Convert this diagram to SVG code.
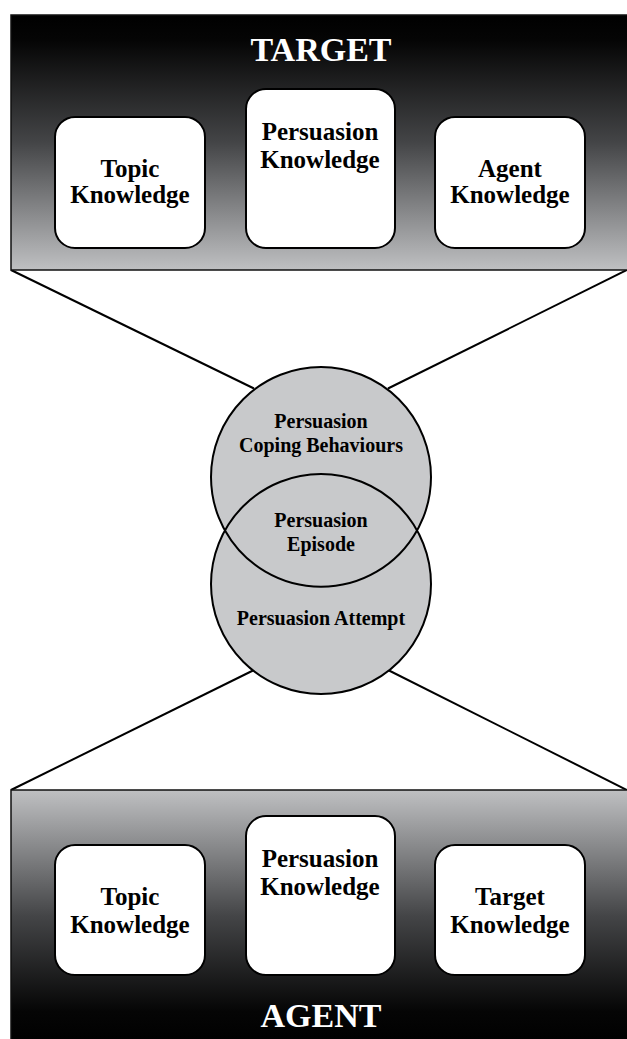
<svg xmlns="http://www.w3.org/2000/svg" width="627" height="1039" viewBox="0 0 627 1039">
<defs>
<linearGradient id="gTop" x1="0" y1="0" x2="0" y2="1">
<stop offset="0" stop-color="#000"/>
<stop offset="0.1" stop-color="#050505"/>
<stop offset="0.5" stop-color="#444547"/>
<stop offset="1" stop-color="#bfc0c2"/>
</linearGradient>
<linearGradient id="gBot" x1="0" y1="0" x2="0" y2="1">
<stop offset="0" stop-color="#bfc0c2"/>
<stop offset="0.5" stop-color="#444547"/>
<stop offset="0.88" stop-color="#050505"/>
<stop offset="1" stop-color="#000"/>
</linearGradient>
</defs>
<style>
.panel{stroke:#111;stroke-width:1.5}
.card{fill:#fff;stroke:#000;stroke-width:2}
.circ{fill:#c8c9cb;stroke:#000;stroke-width:2}
.conn{stroke:#000;stroke-width:2;fill:none}
text{font-family:"Liberation Serif","Times New Roman",serif;font-weight:bold;text-anchor:middle}
.lbl{font-size:25px;fill:#000}
.clbl{font-size:20px;fill:#000}
.title{font-size:34px;fill:#fff}
</style>
<g id="connectors">
<line class="conn" x1="11" y1="270" x2="254" y2="388.5"/>
<line class="conn" x1="627" y1="270" x2="388" y2="388.5"/>
<line class="conn" x1="11" y1="790" x2="254" y2="670"/>
<line class="conn" x1="627" y1="790" x2="388" y2="670"/>
</g>
<g id="target">
<rect class="panel" x="11" y="15" width="618" height="255" fill="url(#gTop)"/>
<text class="title" x="321" y="61">TARGET</text>
</g>
<g id="target-topic">
<rect class="card" x="55" y="117" width="150" height="131" rx="20"/>
<text class="lbl" x="130" y="177">Topic</text>
<text class="lbl" x="130" y="203">Knowledge</text>
</g>
<g id="target-persuasion">
<rect class="card" x="246" y="89" width="149" height="159" rx="20"/>
<text class="lbl" x="320" y="140">Persuasion</text>
<text class="lbl" x="320" y="168">Knowledge</text>
</g>
<g id="target-agent">
<rect class="card" x="435" y="117" width="150" height="131" rx="20"/>
<text class="lbl" x="510" y="177">Agent</text>
<text class="lbl" x="510" y="203">Knowledge</text>
</g>
<g id="agent">
<rect class="panel" x="11" y="790" width="618" height="252" fill="url(#gBot)"/>
<text class="title" x="321" y="1027">AGENT</text>
</g>
<g id="agent-topic">
<rect class="card" x="55" y="845" width="150" height="130" rx="20"/>
<text class="lbl" x="130" y="905">Topic</text>
<text class="lbl" x="130" y="933">Knowledge</text>
</g>
<g id="agent-persuasion">
<rect class="card" x="246" y="816" width="149" height="159" rx="20"/>
<text class="lbl" x="320" y="867">Persuasion</text>
<text class="lbl" x="320" y="895">Knowledge</text>
</g>
<g id="agent-target">
<rect class="card" x="435" y="845" width="150" height="130" rx="20"/>
<text class="lbl" x="510" y="905">Target</text>
<text class="lbl" x="510" y="933">Knowledge</text>
</g>
<g id="coping">
<circle class="circ" cx="321" cy="477" r="110"/>
</g>
<g id="attempt">
<circle class="circ" cx="321" cy="584" r="110"/>
<path d="M 225 530.5 A 110 110 0 0 0 417 530.5" class="conn"/>
</g>
<g id="labels">
<text class="clbl" x="321" y="428">Persuasion</text>
<text class="clbl" x="321" y="452">Coping Behaviours</text>
<text class="clbl" x="321" y="527">Persuasion</text>
<text class="clbl" x="321" y="551">Episode</text>
<text class="clbl" x="321" y="625">Persuasion Attempt</text>
</g>
</svg>
